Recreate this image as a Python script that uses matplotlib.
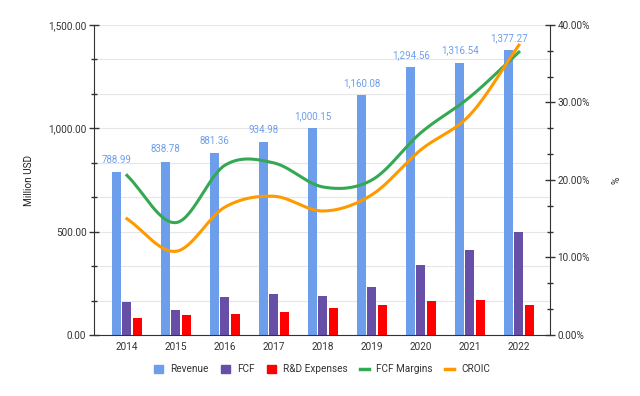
import numpy as np
import matplotlib
matplotlib.use('Agg')
import matplotlib.pyplot as plt
from matplotlib.patches import Patch
from matplotlib.lines import Line2D
from matplotlib.ticker import FuncFormatter, MultipleLocator

plt.rcParams['font.family'] = ['Roboto', 'DejaVu Sans']

# ---- data ----
years = ['2014', '2015', '2016', '2017', '2018', '2019', '2020', '2021', '2022']
revenue = [788.99, 838.78, 881.36, 934.98, 1000.15, 1160.08, 1294.56, 1316.54, 1377.27]
fcf = [160, 121, 184, 198, 189, 232, 339, 411, 498]
rnd = [82, 97, 102, 111, 130, 145, 164, 169, 145]
fcf_margin = [20.6, 14.5, 21.9, 22.2, 19.1, 20.0, 26.1, 30.7, 36.5]
croic = [15.0, 10.8, 16.5, 17.9, 16.0, 18.1, 23.9, 28.4, 37.4]

C_REV = '#6d9eeb'
C_FCF = '#674ea7'
C_RND = '#ff0000'
C_MARGIN = '#34a853'
C_CROIC = '#ff9900'
FS = 7.2


def smooth(y, n=30, tension=0.5):
    # catmull-rom style curve through the points (display only)
    y = np.asarray(y, float)
    x = np.arange(len(y))
    m = np.zeros_like(y)
    m[1:-1] = (y[2:] - y[:-2]) / 2
    m[0] = y[1] - y[0]
    m[-1] = y[-1] - y[-2]
    m *= tension * 2
    xs, ys = [], []
    for i in range(len(y) - 1):
        t = np.linspace(0, 1, n)
        h00 = 2 * t**3 - 3 * t**2 + 1
        h10 = t**3 - 2 * t**2 + t
        h01 = -2 * t**3 + 3 * t**2
        h11 = t**3 - t**2
        xs.append(x[i] + t)
        ys.append(h00 * y[i] + h10 * m[i] + h01 * y[i + 1] + h11 * m[i + 1])
    return np.concatenate(xs), np.concatenate(ys)


fig = plt.figure(figsize=(6.4, 3.96), dpi=100)
ax = fig.add_axes([0.147, 0.154, 0.712, 0.783])
ax2 = ax.twinx()

x = np.arange(len(years))
w = 0.18
off = 0.21
ax.bar(x - off, revenue, w, color=C_REV, zorder=2)
ax.bar(x, fcf, w, color=C_FCF, zorder=2)
ax.bar(x + off, rnd, w, color=C_RND, zorder=2)

for xi, v in zip(x, revenue):
    ax.text(xi - off, v + 35, f'{v:,.2f}', ha='center', va='bottom',
            color=C_REV, fontsize=7)

ax.set_xlim(-0.67, 8.63)
ax.set_ylim(0, 1500)
ax.yaxis.set_major_locator(MultipleLocator(500))
ax.yaxis.set_minor_locator(MultipleLocator(500 / 3))
ax.yaxis.set_major_formatter(FuncFormatter(lambda v, p: f'{v:,.2f}'))
ax.grid(axis='y', which='both', color='#e6e6e6', linewidth=0.8, zorder=0)
ax.set_axisbelow(True)
ax.set_xticks(x)
ax.set_xticklabels(years)
ax.tick_params(axis='x', length=0, labelsize=FS, colors='#333333', pad=5)
ax.tick_params(axis='y', which='major', direction='inout', length=7, width=1,
               labelsize=FS, colors='#333333', pad=2)
ax.tick_params(axis='y', which='minor', direction='inout', length=5, width=1,
               color='#333333')
ax.set_ylabel('Million USD', fontsize=FS, color='#222222', labelpad=10)

xs, ys = smooth(fcf_margin)
ax2.plot(xs, ys, color=C_MARGIN, linewidth=2.2, zorder=3)
xs, ys = smooth(croic)
ax2.plot(xs, ys, color=C_CROIC, linewidth=2.2, zorder=3)
ax2.set_ylim(0, 40)
ax2.yaxis.set_major_locator(MultipleLocator(10))
ax2.yaxis.set_minor_locator(MultipleLocator(10 / 3))
ax2.yaxis.set_major_formatter(FuncFormatter(lambda v, p: f'{v:.2f}%'))
ax2.tick_params(axis='y', which='major', direction='inout', length=7, width=1,
                labelsize=FS, colors='#333333', pad=2)
ax2.tick_params(axis='y', which='minor', direction='inout', length=5, width=1,
                color='#333333')
ax2.set_ylabel('%', fontsize=FS, color='#222222', labelpad=16)

ax.spines['top'].set_visible(False)
ax2.spines['top'].set_visible(False)
ax.spines['left'].set_color('#333333')
ax.spines['right'].set_visible(False)
ax2.spines['left'].set_visible(False)
ax2.spines['right'].set_color('#333333')
ax.spines['bottom'].set_color('#333333')
ax2.spines['bottom'].set_visible(False)

handles = [
    Patch(color=C_REV, label='Revenue'),
    Patch(color=C_FCF, label='FCF'),
    Patch(color=C_RND, label='R&D Expenses'),
    Line2D([], [], color=C_MARGIN, linewidth=2.5, label='FCF Margins'),
    Line2D([], [], color=C_CROIC, linewidth=2.5, label='CROIC'),
]
fig.legend(handles=handles, loc='center', bbox_to_anchor=(0.503, 0.067), ncol=5,
           frameon=False, fontsize=FS, handlelength=0.9, handleheight=0.9,
           columnspacing=1.25, handletextpad=0.7, labelcolor='#333333')

fig.savefig('out.png', dpi=100)
